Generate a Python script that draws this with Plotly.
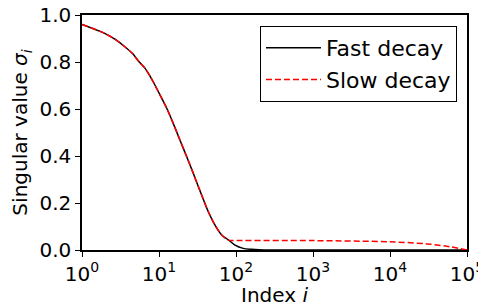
import plotly.graph_objects as go

fast_x = [1, 2, 2.7, 3.6, 4.5, 5.5, 6.6, 7.7, 8.4, 10.3, 12.6, 15.3, 18.7, 22.9, 27.9, 32.4, 35.8, 43.7, 53.4, 65.2, 79.4, 97, 124, 159, 200, 300, 100000]
fast_y = [0.96, 0.921, 0.896, 0.865, 0.837, 0.801, 0.773, 0.738, 0.716, 0.66, 0.603, 0.539, 0.468, 0.397, 0.326, 0.27, 0.234, 0.163, 0.106, 0.064, 0.043, 0.021, 0.007, 0.003, 0.001, 0.0, 0.0]

slow_x = [1, 2, 2.7, 3.6, 4.5, 5.5, 6.6, 7.7, 8.4, 10.3, 12.6, 15.3, 18.7, 22.9, 27.9, 32.4, 35.8, 43.7, 53.4, 65.2, 79.4, 100, 1000, 10000, 30000, 60000, 100000]
slow_y = [0.96, 0.921, 0.896, 0.865, 0.837, 0.801, 0.773, 0.738, 0.716, 0.66, 0.603, 0.539, 0.468, 0.397, 0.326, 0.27, 0.234, 0.163, 0.106, 0.064, 0.042, 0.041, 0.04, 0.035, 0.026, 0.014, 0.0]

x_tickvals = [1, 10, 100, 1000, 10000, 100000]
x_ticktext = ["10<sup>0</sup>", "10<sup>1</sup>", "10<sup>2</sup>", "10<sup>3</sup>", "10<sup>4</sup>", "10<sup>5</sup>"]
y_tickvals = [0.0, 0.2, 0.4, 0.6, 0.8, 1.0]
y_ticktext = ["0.0", "0.2", "0.4", "0.6", "0.8", "1.0"]

fig = go.Figure()
fig.add_trace(go.Scatter(x=fast_x, y=fast_y, mode="lines", name="Fast decay",
                         line=dict(color="black", width=1.5, shape="spline", smoothing=0.8)))
fig.add_trace(go.Scatter(x=slow_x, y=slow_y, mode="lines", name="Slow decay",
                         line=dict(color="red", width=1.5, dash="6px,3px", shape="spline", smoothing=0.8)))

font = dict(family="DejaVu Sans", size=20, color="black")
# page body adds an 8px margin, so the figure is 8px smaller and shifted
fig.update_layout(
    width=478, height=299,
    margin=dict(l=74, r=19, t=7, b=57),
    paper_bgcolor="white", plot_bgcolor="white",
    font=font,
    showlegend=True,
    legend=dict(x=0.974, y=0.953, xanchor="right", yanchor="top",
                bordercolor="black", borderwidth=1, bgcolor="white",
                font=dict(family="DejaVu Sans", size=22, color="black"), itemwidth=55,
                tracegroupgap=0),
)
fig.update_xaxes(type="log", range=[0, 5], tickvals=x_tickvals, ticktext=x_ticktext,
                 showgrid=False, zeroline=False, showline=True, linecolor="black", linewidth=1.5,
                 mirror=True, ticks="outside", ticklen=5, tickwidth=1.2, tickcolor="black",
                 tickfont=dict(size=20), automargin=False, ticklabeloverflow="allow",
                 title=dict(text="Index <i>i</i>", standoff=2, font=dict(size=20)))
fig.update_yaxes(range=[0, 1], tickvals=y_tickvals, ticktext=y_ticktext,
                 showgrid=False, zeroline=False, showline=True, linecolor="black", linewidth=1.5,
                 mirror=True, ticks="outside", ticklen=5, tickwidth=1.2, tickcolor="black",
                 tickfont=dict(size=20), automargin=False, ticklabeloverflow="allow",
                 title=dict(text="Singular value <i>σ<sub>i</sub></i>", standoff=6, font=dict(size=20)))

fig.write_html("out.html")
